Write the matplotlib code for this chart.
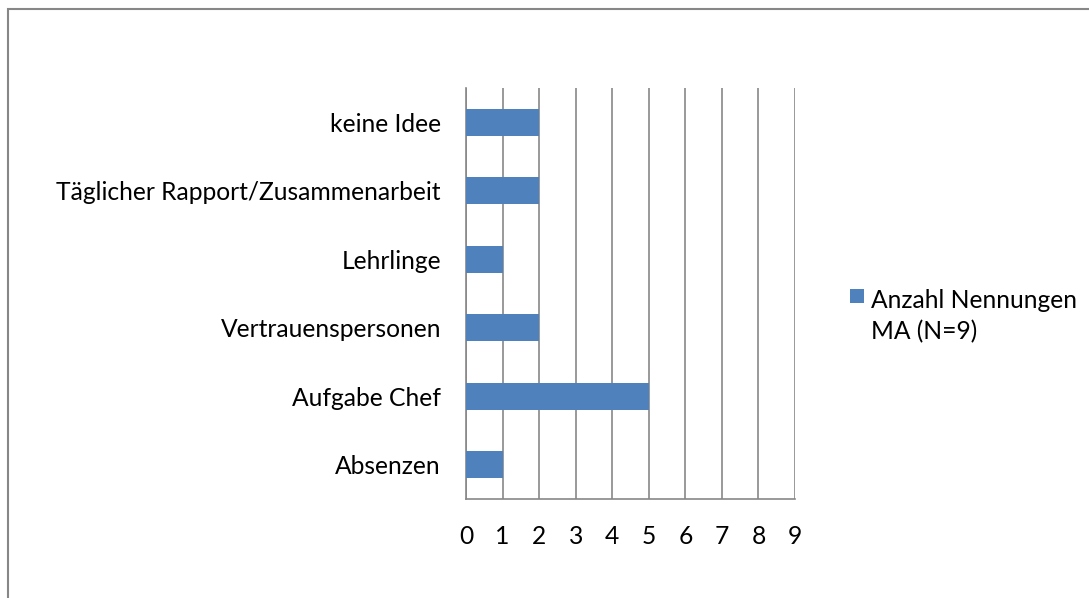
import matplotlib.pyplot as plt
from matplotlib.patches import Rectangle

categories = ["Absenzen", "Aufgabe Chef", "Vertrauenspersonen", "Lehrlinge",
              "Täglicher Rapport/Zusammenarbeit", "keine Idee"]
values = [1, 5, 2, 1, 2, 2]
series_name = "Anzahl Nennungen\nMA (N=9)"

plt.rcParams['font.family'] = ['Lato', 'DejaVu Sans']
plt.rcParams['font.size'] = 17.7

fig = plt.figure(figsize=(10.89, 5.98), dpi=100)
ax = fig.add_axes([466/1089, 1 - 499/598, (795 - 466)/1089, (499 - 88)/598])

ax.barh(range(len(categories)), values, height=0.4, color="#4f81bd", zorder=3,
        label=series_name)
ax.set_xlim(0, 9)
ax.set_ylim(-0.5, len(categories) - 0.5)
ax.set_xticks(range(10))
ax.set_yticks(range(len(categories)))
ax.set_yticklabels(categories)
ax.grid(axis="x", color="#878787", linewidth=1.2, zorder=0)
for s in ["top", "right"]:
    ax.spines[s].set_visible(False)
for s in ["left", "bottom"]:
    ax.spines[s].set_color("#878787")
    ax.spines[s].set_linewidth(1.2)
ax.tick_params(axis="y", length=0, pad=18)
ax.tick_params(axis="x", length=0, pad=19)

leg = fig.legend(loc="center left", bbox_to_anchor=(838/1089, 1 - 316/598), frameon=False,
                 handlelength=0.55, handleheight=0.55, handletextpad=0.3, borderpad=0)
for t in leg.get_texts():
    t.set_linespacing(1.45)
# put the square next to the first text line, as in the original
for col in leg._legend_handle_box.get_children():
    for row in col.get_children():
        row.align = "top"

fig.patches.append(Rectangle((8/1089, -0.1), 1.2, 1.1 - 9/598, transform=fig.transFigure,
                             fill=False, edgecolor="#878787", linewidth=1.5))

fig.savefig("out.png", dpi=100)
